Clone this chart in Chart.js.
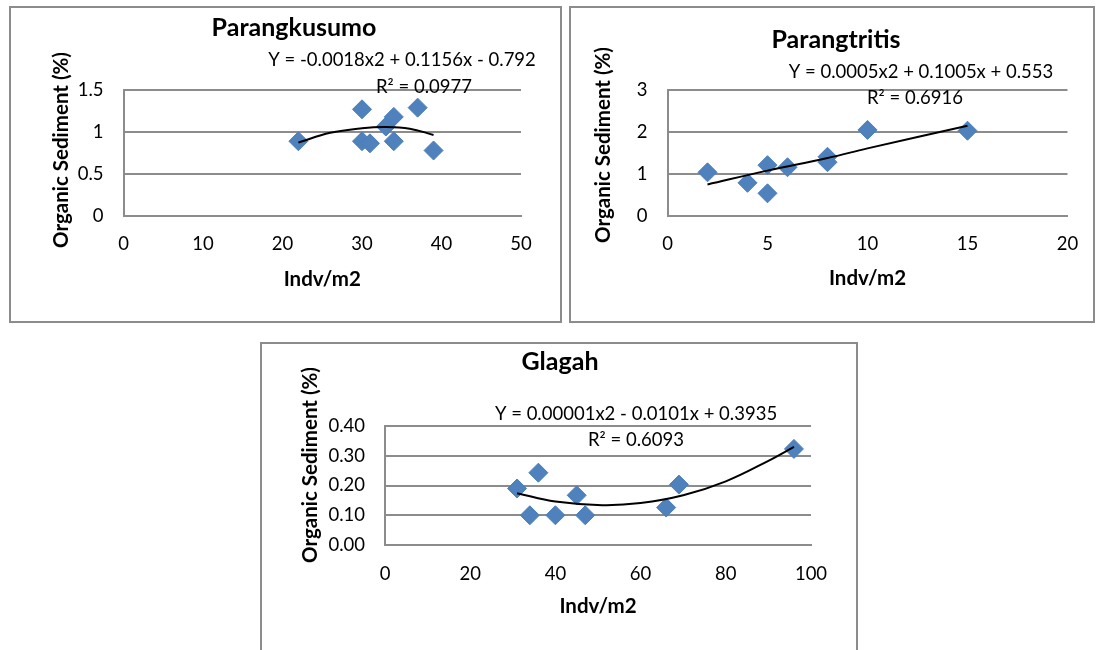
<!DOCTYPE html>
<html>
<head>
<meta charset="utf-8">
<script src="https://cdn.jsdelivr.net/npm/chart.js@4.4.0/dist/chart.umd.min.js"></script>
<style>
body { margin:0; background:#fff; width:1100px; height:650px; overflow:hidden; position:relative; }
canvas { position:absolute; }
.frame { position:absolute; border:2px solid #8c8c8c; box-sizing:border-box; }
</style>
</head>
<body>
<canvas id="chart_kusumo" width="553" height="317" style="left:9px;top:6px"></canvas>
<canvas id="chart_tritis" width="526" height="317" style="left:569px;top:6px"></canvas>
<canvas id="chart_glagah" width="598" height="310" style="left:260px;top:342px"></canvas>
<div class="frame" style="left:9px;top:6px;width:553px;height:317px"></div>
<div class="frame" style="left:569px;top:6px;width:526px;height:317px"></div>
<div class="frame" style="left:260px;top:342px;width:598px;height:320px"></div>
<script>
// Parangkusumo
var kusumo_x = [22, 30, 30, 31, 33, 34, 34, 37, 39];
var kusumo_y = [0.89, 1.27, 0.89, 0.865, 1.065, 1.18, 0.89, 1.29, 0.78];
var kusumo_trend_x = [22, 26, 30, 33, 36, 39];
var kusumo_trend_y = [0.875, 0.99, 1.045, 1.06, 1.04, 0.965];

// Parangtritis
var tritis_x = [2, 4, 5, 5, 6, 8, 8, 10, 15];
var tritis_y = [1.04, 0.79, 1.21, 0.54, 1.16, 1.41, 1.28, 2.05, 2.03];
var tritis_trend_x = [2, 5, 8, 10, 15];
var tritis_trend_y = [0.75, 1.08, 1.38, 1.61, 2.15];

// Glagah
var glagah_x = [31, 34, 36, 40, 45, 47, 66, 69, 96];
var glagah_y = [0.19, 0.10, 0.243, 0.10, 0.167, 0.10, 0.126, 0.203, 0.323];
var glagah_trend_x = [31, 40, 51, 60, 70, 80, 90, 96];
var glagah_trend_y = [0.174, 0.146, 0.134, 0.141, 0.167, 0.214, 0.283, 0.33];

var FONT = 'Lato, "Open Sans", sans-serif';
var TICK_SIZE = 18.5;
var AXIS_SIZE = 20.5;
var LH = AXIS_SIZE * 1.2;
var TITLE_FONT = 'bold 25px ' + FONT;
var NOTE_FONT = '18.5px ' + FONT;
var YTITLE_FONT = 'bold ' + AXIS_SIZE + 'px ' + FONT;

function pairs(xs, ys) {
  return xs.map(function (x, i) { return {x: x, y: ys[i]}; });
}

// chart title, trendline equation, R2 and the y axis title
function notesPlugin(notes) {
  return {
    id: 'notes',
    afterDraw: function (chart) {
      var ctx = chart.ctx;
      ctx.save();
      ctx.fillStyle = '#000';
      ctx.textAlign = 'center';
      ctx.textBaseline = 'middle';
      notes.forEach(function (n) {
        ctx.save();
        ctx.font = n.font;
        ctx.translate(n.x, n.y);
        if (n.rotate) ctx.rotate(-Math.PI / 2);
        ctx.fillText(n.text, 0, 0);
        ctx.restore();
      });
      ctx.restore();
    }
  };
}

function create_chart(id, box, points, trend, xAxis, yAxis, notes) {
  var xHeight = box.xTitleY + LH / 2 + 4 - box.bottom;
  var canvas = document.getElementById(id);
  notes.push({ text: 'Organic Sediment (%)', x: box.yTitleX, y: box.yTitleY, font: YTITLE_FONT, rotate: true });
  return new Chart(canvas, {
    type: 'scatter',
    data: {
      datasets: [{
        data: trend,
        showLine: true,
        borderColor: '#000',
        borderWidth: 2,
        pointRadius: 0,
        tension: 0.4
      }, {
        data: points,
        pointStyle: 'rectRot',
        pointRadius: 9.5,
        pointBackgroundColor: '#4f81bd',
        pointBorderColor: '#4a7ebb',
        pointBorderWidth: 1
      }]
    },
    options: {
      responsive: false,
      animation: false,
      layout: {
        padding: {
          left: 0,
          right: canvas.width - box.right,
          top: box.top,
          bottom: canvas.height - box.bottom - xHeight
        }
      },
      plugins: { legend: { display: false }, tooltip: { enabled: false } },
      scales: {
        x: {
          type: 'linear', min: 0, max: xAxis.max,
          afterFit: function (s) { s.height = xHeight; },
          grid: { display: false, drawTicks: false },
          border: { display: true, color: '#8c8c8c', width: 2 },
          ticks: { stepSize: xAxis.step, padding: box.xTickPad, color: '#000', font: { family: FONT, size: TICK_SIZE } },
          title: { display: true, text: 'Indv/m2', color: '#000', font: { family: FONT, size: AXIS_SIZE, weight: 'bold' } }
        },
        y: {
          min: 0, max: yAxis.max,
          afterFit: function (s) { s.width = box.left; },
          grid: { color: '#8c8c8c', lineWidth: 2, drawTicks: false },
          border: { display: true, color: '#8c8c8c', width: 2 },
          ticks: {
            stepSize: yAxis.step, padding: 20, color: '#000', font: { family: FONT, size: TICK_SIZE },
            callback: function (v) { return yAxis.decimals ? v.toFixed(yAxis.decimals) : String(v); }
          }
        }
      }
    },
    plugins: [notesPlugin(notes)]
  });
}

create_chart('chart_kusumo',
  { left: 114.5, right: 512, top: 84, bottom: 210, xTitleY: 273, xTickPad: 16.5, yTitleX: 52, yTitleY: 144 },
  pairs(kusumo_x, kusumo_y), pairs(kusumo_trend_x, kusumo_trend_y),
  { max: 50, step: 10 }, { max: 1.5, step: 0.5, decimals: 0 },
  [
    { text: 'Parangkusumo', x: 285, y: 22, font: TITLE_FONT },
    { text: 'Y = -0.0018x2 + 0.1156x - 0.792', x: 393, y: 54, font: NOTE_FONT },
    { text: 'R\u00b2 = 0.0977', x: 415, y: 81, font: NOTE_FONT }
  ]);

create_chart('chart_tritis',
  { left: 98.5, right: 498.5, top: 84, bottom: 210, xTitleY: 272, xTickPad: 16.5, yTitleX: 34, yTitleY: 139 },
  pairs(tritis_x, tritis_y), pairs(tritis_trend_x, tritis_trend_y),
  { max: 20, step: 5 }, { max: 3, step: 1, decimals: 0 },
  [
    { text: 'Parangtritis', x: 267, y: 34, font: TITLE_FONT },
    { text: 'Y = 0.0005x2 + 0.1005x + 0.553', x: 352, y: 66, font: NOTE_FONT },
    { text: 'R\u00b2 = 0.6916', x: 346, y: 92, font: NOTE_FONT }
  ]);

create_chart('chart_glagah',
  { left: 125, right: 551, top: 84, bottom: 203, xTitleY: 264, xTickPad: 18, yTitleX: 50, yTitleY: 123 },
  pairs(glagah_x, glagah_y), pairs(glagah_trend_x, glagah_trend_y),
  { max: 100, step: 20 }, { max: 0.4, step: 0.1, decimals: 2 },
  [
    { text: 'Glagah', x: 300, y: 20, font: TITLE_FONT },
    { text: 'Y = 0.00001x2 - 0.0101x + 0.3935', x: 376, y: 72, font: NOTE_FONT },
    { text: 'R\u00b2 = 0.6093', x: 376, y: 98, font: NOTE_FONT }
  ]);
</script>
</body>
</html>
